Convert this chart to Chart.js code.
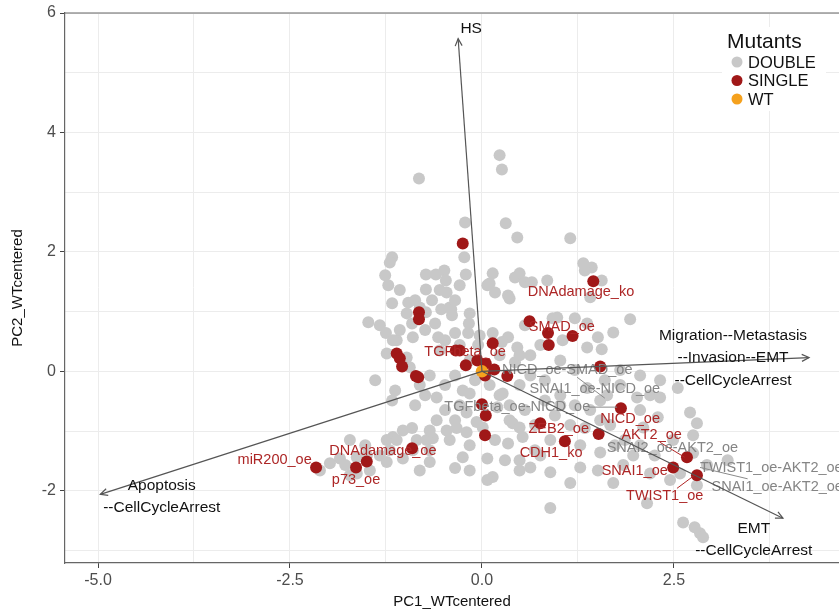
<!DOCTYPE html>
<html>
<head>
<meta charset="utf-8">
<script src="https://cdn.jsdelivr.net/npm/chart.js@4.4.1/dist/chart.umd.min.js"></script>
<style>
  html, body { margin: 0; padding: 0; background: #fff; }
  canvas { display: block; }
</style>
</head>
<body>
<canvas id="biplot" width="839" height="613"></canvas>
<script>
// ---- DATA ----

// axis ranges and ticks
const xRange = [-5.43, 4.65];
const yRange = [-3.21, 6];
const xTicks = [-5, -3.75, -2.5, -1.25, 0, 1.25, 2.5, 3.75];
const yTicks = [-3, -2, -1, 0, 1, 2, 3, 4, 5, 6];

// double mutants (grey)
const doublePts = [
  [-0.82, 3.23], [0.23, 3.62], [0.26, 3.38], [-0.22, 2.49], [0.31, 2.48], [0.46, 2.24], [1.15, 2.23],
  [-0.23, 1.91], [-0.21, 1.62], [-1.17, 1.91], [-1.20, 1.82], [-1.26, 1.61], [-1.22, 1.44],
  [-0.73, 1.62], [-0.60, 1.62], [-0.49, 1.69], [-0.47, 1.52], [-0.73, 1.37], [-0.46, 1.32],
  [0.07, 1.44], [0.14, 1.64], [0.17, 1.32], [0.34, 1.27], [0.36, 1.22], [0.43, 1.57], [0.49, 1.64],
  [0.56, 1.49], [0.85, 1.52], [0.65, 1.49], [1.32, 1.81], [1.43, 1.74], [1.34, 1.69], [1.56, 1.52],
  [1.41, 1.24], [1.93, 0.87], [1.71, 0.65], [0.98, 0.90], [1.21, 0.89], [1.37, 0.40], [1.56, 0.37],
  [1.05, 0.52], [-1.17, 1.14], [-0.96, 1.15], [-0.87, 1.19], [-0.98, 0.97], [-0.91, 0.80], [-0.73, 0.99],
  [-0.61, 0.80], [-0.53, 1.04], [-0.40, 1.04], [-0.39, 0.94], [-0.16, 0.97], [-0.17, 0.80], [-0.18, 0.64],
  [-1.48, 0.82], [-1.25, 0.64], [-1.11, 0.52], [-0.90, 0.57], [-0.57, 0.57], [-0.35, 0.64], [0.14, 0.64],
  [0.34, 0.57], [0.26, 0.49], [0.46, 0.40], [0.92, 0.89], [1.37, 0.80], [1.51, 0.57], [-0.81, 1.07],
  [-0.42, 1.07], [0.10, 1.47], [-1.16, 0.52], [-1.24, 0.30], [-0.98, 0.23], [-0.94, 0.07],
  [-0.59, -0.44], [-0.25, -0.32], [-0.16, -0.37], [-0.29, -0.57], [-0.20, -0.69], [-0.59, -0.82],
  [-0.07, -0.85], [0.01, -0.94], [-0.46, -0.99], [-0.33, -0.95], [-0.20, -1.02], [-0.42, -1.15],
  [-0.25, -1.44], [0.07, -1.46], [0.14, -1.77], [0.07, -1.82], [0.34, -1.21], [0.49, -0.94],
  [0.53, -1.10], [0.20, -0.60], [0.27, -0.37], [0.40, -0.87], [0.49, -1.49], [-0.64, -1.12],
  [-1.16, -1.10], [-1.03, -0.99], [-0.91, -0.95], [-1.24, -1.15], [-1.11, -1.15], [-0.85, -1.15],
  [-0.72, -1.15], [-0.68, -1.32], [-0.68, -1.52], [-1.20, -1.32], [-1.33, -1.41], [-1.50, -1.41],
  [-1.63, -1.44], [-1.85, -1.46], [-1.98, -1.54], [-1.78, -1.57], [-1.46, -1.66], [-1.63, -1.71],
  [-0.90, -1.32], [-1.03, -1.46], [-1.24, -1.52], [-1.72, -1.74], [-1.17, -0.49],
  [1.37, -0.28], [1.63, -0.40], [2.02, -0.44], [2.19, -0.40], [2.32, -0.44], [2.55, -0.28],
  [2.71, -0.69], [2.80, -0.87], [2.29, -0.77], [2.10, -0.94], [2.49, -1.15], [2.75, -1.07],
  [2.75, -1.37], [2.93, -1.57], [3.20, -1.49], [2.58, -1.71], [2.19, -1.71], [2.45, -1.82],
  [2.80, -1.91], [2.62, -2.53], [2.84, -2.71], [2.15, -2.21], [0.89, -2.29], [1.15, -1.87],
  [0.89, -1.69], [0.63, -1.61], [1.28, -1.61], [1.51, -1.66], [1.71, -1.87], [1.84, -1.57],
  [1.97, -1.41], [2.77, -2.61], [2.88, -2.78],
  [0.82, -0.49], [1.02, -0.40], [1.21, -0.57], [1.41, -0.65], [0.95, -0.74], [1.15, -0.90],
  [1.34, -0.95], [1.67, -0.90], [1.86, -1.15], [0.89, -1.15], [1.28, -1.24], [0.69, -1.32],
  [1.54, -1.36], [1.73, -1.24], [2.06, -1.24], [2.25, -1.41],
  [0.63, -0.07], [0.49, -0.23], [0.82, -0.15], [1.02, 0.18], [1.21, 0.02], [1.80, 0.02],
  [1.60, -0.15], [0.63, 0.27], [0.43, 0.15], [0.23, -0.40], [0.36, -0.57], [0.56, -0.65],
  [-0.16, 0.18], [-0.09, -0.15], [0.10, -0.23], [-0.35, -0.07], [-0.48, -0.23], [-0.68, -0.07],
  [-0.74, -0.40], [-0.55, 0.35], [-0.05, 0.44], [0.23, 0.27],
  [-1.07, 1.36], [-0.65, 1.19], [-0.55, 1.36], [-0.35, 1.19], [-0.29, 1.44], [-1.33, 0.77],
  [-1.07, 0.69], [-0.74, 0.69], [-0.48, 0.52], [-0.29, 0.44], [-0.03, 0.60], [0.56, 0.77],
  [0.76, 0.44], [0.49, 0.27], [-1.39, -0.15], [-1.13, -0.32], [-0.81, -0.23], [-0.87, -0.57],
  [-0.48, -0.65], [-0.35, -0.82], [-0.68, -0.99], [-0.16, -1.24], [0.17, -1.15], [0.30, -1.49],
  [0.49, -1.66], [0.76, -1.41], [0.36, -0.82], [0.69, -0.90], [1.02, -0.57], [1.54, -0.49],
  [1.80, -0.23], [2.06, -0.07], [2.32, -0.15], [1.54, -0.82], [2.06, -0.65], [-1.72, -1.15],
  [-1.52, -1.24], [-2.11, -1.66], [-0.35, -1.62], [-0.16, -1.66], [-0.81, -1.66]
];

// single mutants (dark red)
const singlePts = [
  [-0.25, 2.14], [1.45, 1.51], [-0.82, 0.99], [-0.82, 0.87],
  [0.62, 0.84], [0.86, 0.64], [0.87, 0.44], [1.18, 0.59],
  [-1.11, 0.30], [-1.07, 0.22], [-1.04, 0.08], [-0.86, -0.08], [-0.83, -0.10],
  [-0.34, 0.35], [-0.29, 0.35], [-0.21, 0.10], [0.14, 0.47], [0.16, 0.03], [0.33, -0.08],
  [-0.06, 0.18], [0.05, 0.13], [0.04, -0.07],
  [0.0, -0.55], [0.05, -0.74], [0.04, -1.07],
  [1.54, 0.08], [1.81, -0.62], [0.76, -0.87], [1.52, -1.05], [1.08, -1.17],
  [2.67, -1.44], [2.49, -1.61], [2.80, -1.74],
  [-2.16, -1.61], [-1.64, -1.61], [-1.50, -1.51], [-0.91, -1.29]
];

// wild type
const wtPts = [[0, 0]];

// labels of single mutants (text centre)
const singleLabels = [
  ["DNAdamage_ko", 1.29, 1.32], ["SMAD_oe", 1.04, 0.74], ["TGFbeta_oe", -0.22, 0.32],
  ["NICD_oe", 1.93, -0.80], ["AKT2_oe", 2.21, -1.07], ["ZEB2_oe", 1.00, -0.97],
  ["CDH1_ko", 0.90, -1.36], ["SNAI1_oe", 1.99, -1.67], ["TWIST1_oe", 2.38, -2.09],
  ["miR200_oe", -2.70, -1.49], ["p73_oe", -1.64, -1.82], ["DNAdamage_oe", -1.29, -1.34]
];

// labels of double mutants (text centre, or left edge for the cut ones)
const doubleLabels = [
  ["NICD_oe-SMAD_oe", 1.11, 0.02, "center"], ["SNAI1_oe-NICD_oe", 1.47, -0.30, "center"],
  ["TGFbeta_oe-NICD_oe", 0.46, -0.60, "center"], ["SNAI2_oe-AKT2_oe", 2.48, -1.29, "center"],
  ["TWIST1_oe-AKT2_oe", 2.84, -1.62, "left"], ["SNAI1_oe-AKT2_oe", 2.99, -1.94, "left"]
];

// label leader segments [x1, y1, x2, y2]
const greyLeaders = [[1.24, -0.10, 1.60, -0.45], [1.39, -0.60, 1.76, -0.60], [2.84, -1.61, 3.46, -1.80]];
const redLeaders = [[2.32, -1.19, 2.64, -1.44], [2.54, -1.96, 2.77, -1.74]];

// loading arrows: name lines, arrow tip, label centre
const loadNames = [["HS"], ["Migration--Metastasis", "--Invasion--EMT", "--CellCycleArrest"],
                   ["EMT", "--CellCycleArrest"], ["Apoptosis", "--CellCycleArrest"]];
const loadTips = [[-0.31, 5.57], [4.26, 0.23], [3.92, -2.46], [-4.97, -2.06]];
const loadLabelPos = [[-0.14, 5.74], [3.27, 0.59], [3.54, -2.63], [-4.17, -1.91]];
const loadLineStep = [0, 0.37, 0.37, 0.38];

const FONT = "'Liberation Sans', Arial, Helvetica, sans-serif";

// ---- OVERLAY: arrows, labels, legend, top border ----

function arrowHead(ctx, x0, y0, x1, y1) {
    const ang = Math.atan2(y1 - y0, x1 - x0);
    const len = 8, spread = 0.45;
    ctx.beginPath();
    ctx.moveTo(x1 - len * Math.cos(ang - spread), y1 - len * Math.sin(ang - spread));
    ctx.lineTo(x1, y1);
    ctx.lineTo(x1 - len * Math.cos(ang + spread), y1 - len * Math.sin(ang + spread));
    ctx.stroke();
}

const overlay = {
    id: "overlay",
    afterDatasetsDraw(chart) {
        const ctx = chart.ctx;
        const xs = chart.scales.x, ys = chart.scales.y;
        const px = v => xs.getPixelForValue(v);
        const py = v => ys.getPixelForValue(v);
        ctx.save();

        // leader lines
        ctx.lineWidth = 1;
        ctx.strokeStyle = "#8a8a8a";
        for (let s of greyLeaders) {
            ctx.beginPath(); ctx.moveTo(px(s[0]), py(s[1])); ctx.lineTo(px(s[2]), py(s[3])); ctx.stroke();
        }
        ctx.strokeStyle = "#b02525";
        for (let s of redLeaders) {
            ctx.beginPath(); ctx.moveTo(px(s[0]), py(s[1])); ctx.lineTo(px(s[2]), py(s[3])); ctx.stroke();
        }

        // point labels
        ctx.font = "14.5px " + FONT;
        ctx.textBaseline = "middle";
        ctx.fillStyle = "#858585";
        for (let l of doubleLabels) {
            ctx.textAlign = l[3];
            ctx.fillText(l[0], px(l[1]), py(l[2]));
        }
        ctx.textAlign = "center";
        ctx.fillStyle = "#ad2626";
        for (let l of singleLabels) {
            ctx.fillText(l[0], px(l[1]), py(l[2]));
        }

        // loading arrows
        ctx.strokeStyle = "#555555";
        ctx.lineWidth = 1.2;
        const ox = px(0), oy = py(0);
        for (let i = 0; i < loadTips.length; i++) {
            const tx = px(loadTips[i][0]), ty = py(loadTips[i][1]);
            ctx.beginPath(); ctx.moveTo(ox, oy); ctx.lineTo(tx, ty); ctx.stroke();
            arrowHead(ctx, ox, oy, tx, ty);
        }

        // loading labels
        ctx.font = "15.5px " + FONT;
        ctx.fillStyle = "#111111";
        ctx.textAlign = "center";
        for (let i = 0; i < loadNames.length; i++) {
            loadNames[i].forEach((line, k) => {
                ctx.fillText(line, px(loadLabelPos[i][0]), py(loadLabelPos[i][1] - k * loadLineStep[i]));
            });
        }
        ctx.restore();
    },
    afterDraw(chart) {
        const ctx = chart.ctx;
        const a = chart.chartArea;
        ctx.save();

        // top border
        ctx.strokeStyle = "#666666";
        ctx.lineWidth = 1.2;
        ctx.beginPath(); ctx.moveTo(a.left, a.top); ctx.lineTo(chart.width, a.top); ctx.stroke();

        // legend
        ctx.fillStyle = "#ffffff";
        ctx.fillRect(722, 27, 104, 84);
        ctx.fillStyle = "#111111";
        ctx.textBaseline = "middle";
        ctx.textAlign = "left";
        ctx.font = "21px " + FONT;
        ctx.fillText("Mutants", 727, 42);
        const items = [["DOUBLE", "#c8c8c8"], ["SINGLE", "#a01818"], ["WT", "#f5a11d"]];
        ctx.font = "16.5px " + FONT;
        items.forEach((it, i) => {
            const y = 62 + i * 18.5;
            ctx.fillStyle = it[1];
            ctx.beginPath(); ctx.arc(737, y, 5.5, 0, Math.PI * 2); ctx.fill();
            ctx.fillStyle = "#111111";
            ctx.fillText(it[0], 748, y + 1);
        });
        ctx.restore();
    }
};

// ---- CHART ----

const toXY = arr => arr.map(p => ({ x: p[0], y: p[1] }));

new Chart(document.getElementById("biplot"), {
    type: "scatter",
    data: {
        datasets: [
            { label: "DOUBLE", data: toXY(doublePts), backgroundColor: "#c8c8c8", pointRadius: 6, borderWidth: 0, order: 3 },
            { label: "SINGLE", data: toXY(singlePts), backgroundColor: "#a01818", pointRadius: 6, borderWidth: 0, order: 2 },
            { label: "WT", data: toXY(wtPts), backgroundColor: "#f5a11d", pointRadius: 6.2, borderWidth: 0, order: 1 }
        ]
    },
    options: {
        responsive: false,
        animation: false,
        devicePixelRatio: 1,
        events: [],
        layout: { autoPadding: false, padding: { top: 13, right: 0, left: 0, bottom: 0 } },
        plugins: { legend: { display: false }, tooltip: { enabled: false } },
        scales: {
            x: {
                type: "linear",
                min: xRange[0], max: xRange[1],
                afterBuildTicks: s => { s.ticks = xTicks.map(v => ({ value: v })); },
                afterFit: s => { s.height = 50; s.paddingLeft = 0; s.paddingRight = 0; },
                ticks: {
                    autoSkip: false, maxRotation: 0, padding: 3,
                    color: "#4d4d4d", font: { size: 16, family: FONT },
                    callback: v => Math.abs(v % 2.5) < 1e-9 ? v.toFixed(1) : ""
                },
                grid: {
                    color: "#ececec", lineWidth: 1, tickLength: 5,
                    tickColor: c => (c.tick && Math.abs(c.tick.value % 2.5) < 1e-9) ? "#444" : "rgba(0,0,0,0)"
                },
                border: { display: true, color: "#666666", width: 1.2 },
                title: { display: true, text: "PC1_WTcentered", color: "#111", font: { size: 15, family: FONT }, padding: { top: 0, bottom: 2 } }
            },
            y: {
                type: "linear",
                min: yRange[0], max: yRange[1],
                afterBuildTicks: s => { s.ticks = yTicks.map(v => ({ value: v })); },
                afterFit: s => { s.width = 65; s.paddingTop = 0; s.paddingBottom = 0; },
                ticks: {
                    autoSkip: false, padding: 4,
                    color: "#4d4d4d", font: { size: 16, family: FONT },
                    callback: v => v % 2 === 0 ? String(v) : ""
                },
                grid: {
                    color: "#ececec", lineWidth: 1, tickLength: 5,
                    tickColor: c => (c.tick && c.tick.value % 2 === 0) ? "#444" : "rgba(0,0,0,0)"
                },
                border: { display: true, color: "#666666", width: 1.2 },
                title: { display: true, text: "PC2_WTcentered", color: "#111", font: { size: 15, family: FONT }, padding: { top: 9, bottom: 0 } }
            }
        }
    },
    plugins: [overlay]
});
</script>
</body>
</html>
